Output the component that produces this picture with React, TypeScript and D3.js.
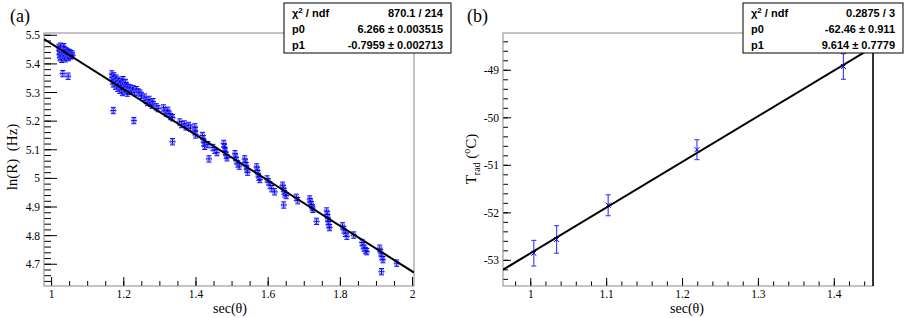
import React, { useEffect, useRef } from 'react';
import * as d3 from 'd3';

// panel (a): ln(R) vs sec(theta)
const lnPoints: [number, number][] = [
  [1.020, 5.458], [1.021, 5.447], [1.022, 5.432], [1.023, 5.422], [1.024, 5.452], [1.026, 5.441],
  [1.027, 5.428], [1.028, 5.416], [1.030, 5.455], [1.031, 5.445], [1.032, 5.435], [1.033, 5.424],
  [1.035, 5.450], [1.036, 5.438], [1.037, 5.428], [1.038, 5.418], [1.040, 5.446], [1.041, 5.436],
  [1.043, 5.425], [1.044, 5.442], [1.046, 5.432], [1.047, 5.422], [1.049, 5.440], [1.050, 5.430],
  [1.052, 5.437], [1.054, 5.428], [1.056, 5.435], [1.058, 5.430], [1.025, 5.462], [1.034, 5.460],
  [1.031, 5.366], [1.046, 5.357],
  [1.167, 5.365], [1.168, 5.352], [1.170, 5.340], [1.171, 5.330], [1.173, 5.358], [1.174, 5.345],
  [1.176, 5.334], [1.177, 5.322], [1.179, 5.350], [1.180, 5.338], [1.182, 5.327], [1.183, 5.315],
  [1.185, 5.343], [1.186, 5.330], [1.188, 5.320], [1.189, 5.308], [1.191, 5.338], [1.193, 5.325],
  [1.195, 5.312], [1.196, 5.300], [1.198, 5.345], [1.200, 5.330], [1.201, 5.318], [1.203, 5.305],
  [1.205, 5.335], [1.207, 5.322], [1.209, 5.310], [1.210, 5.298], [1.212, 5.318], [1.215, 5.305],
  [1.218, 5.316], [1.222, 5.306], [1.226, 5.313], [1.230, 5.300], [1.235, 5.310], [1.240, 5.302],
  [1.245, 5.298], [1.249, 5.290],
  [1.171, 5.237], [1.228, 5.202],
  [1.258, 5.284], [1.262, 5.272], [1.266, 5.265], [1.270, 5.276], [1.274, 5.262], [1.278, 5.256],
  [1.281, 5.268], [1.290, 5.250], [1.295, 5.244],
  [1.310, 5.246], [1.314, 5.236], [1.318, 5.228], [1.322, 5.238], [1.326, 5.224], [1.330, 5.216],
  [1.335, 5.212], [1.335, 5.128],
  [1.355, 5.197], [1.360, 5.188], [1.368, 5.190], [1.372, 5.180], [1.380, 5.185], [1.385, 5.176],
  [1.397, 5.180], [1.398, 5.166], [1.399, 5.152],
  [1.418, 5.150], [1.420, 5.138], [1.422, 5.126], [1.424, 5.112], [1.433, 5.118],
  [1.447, 5.108], [1.452, 5.098], [1.458, 5.090], [1.436, 5.068],
  [1.477, 5.122], [1.479, 5.108], [1.481, 5.094], [1.484, 5.080], [1.486, 5.072],
  [1.508, 5.086], [1.510, 5.074], [1.512, 5.062], [1.516, 5.050], [1.520, 5.043],
  [1.535, 5.068], [1.537, 5.056], [1.539, 5.044], [1.541, 5.032], [1.543, 5.022],
  [1.568, 5.040], [1.570, 5.028], [1.572, 5.016], [1.574, 5.004], [1.577, 4.996],
  [1.597, 4.998], [1.601, 4.988], [1.605, 4.976], [1.610, 4.964], [1.618, 4.953],
  [1.640, 4.976], [1.642, 4.965], [1.644, 4.955], [1.646, 4.946], [1.650, 4.940], [1.643, 4.907],
  [1.678, 4.934], [1.682, 4.922],
  [1.715, 4.928], [1.717, 4.918], [1.720, 4.908], [1.722, 4.898], [1.724, 4.892], [1.734, 4.850],
  [1.762, 4.886], [1.764, 4.874], [1.765, 4.862], [1.766, 4.850], [1.768, 4.838], [1.770, 4.828],
  [1.806, 4.834], [1.810, 4.820], [1.814, 4.808], [1.818, 4.798], [1.837, 4.802],
  [1.860, 4.776], [1.863, 4.765], [1.866, 4.756], [1.870, 4.748], [1.873, 4.744],
  [1.909, 4.756], [1.912, 4.740], [1.915, 4.726], [1.918, 4.716], [1.914, 4.674],
  [1.956, 4.704],
];
const lnErr = 0.011;
const lnFit = { p0: 6.266, p1: -0.7959 };
const lnStats = [
  ['χ² / ndf', '870.1 / 214'],
  ['p0', '6.266 ± 0.003515'],
  ['p1', '-0.7959 ± 0.002713'],
];

// panel (b): T_rad vs sec(theta)
const tSec = [1.004, 1.034, 1.102, 1.219, 1.412];
const tRad = [-52.85, -52.56, -51.84, -50.67, -48.92];
const tErr = [0.27, 0.29, 0.22, 0.21, 0.27];
const tFit = { p0: -62.46, p1: 9.614 };
const tStats = [
  ['χ² / ndf', '0.2875 / 3'],
  ['p0', '-62.46 ± 0.911'],
  ['p1', '9.614 ± 0.7779'],
];

const serif = '"Liberation Serif", "Times New Roman", "DejaVu Serif", serif';
const sans = '"Liberation Sans", Arial, sans-serif';
const frameCol = '#8a8a8a';

// ROOT style labels: plain hyphen, no trailing zeros
const fmt = (v: number) => String(+v.toFixed(3));

function drawAxes(g, x, y, opt) {
  const [x0, x1] = x.range();
  const [y0, y1] = y.range(); // y0 is the bottom
  opt.xMinor.forEach((v) => {
    g.append('line').attr('x1', x(v)).attr('x2', x(v)).attr('y1', y0).attr('y2', y0 - opt.xMinorLen)
      .attr('stroke', '#000').attr('stroke-width', 1);
  });
  opt.xMajor.forEach((v) => {
    g.append('line').attr('x1', x(v)).attr('x2', x(v)).attr('y1', y0).attr('y2', y0 - opt.xMajorLen)
      .attr('stroke', '#000').attr('stroke-width', 1);
    g.append('text').attr('x', x(v)).attr('y', y0 + 12).attr('text-anchor', 'middle')
      .attr('font-family', serif).attr('font-size', 11.5).text(fmt(v));
  });
  opt.yMinor.forEach((v) => {
    g.append('line').attr('x1', x0).attr('x2', x0 + opt.yMinorLen).attr('y1', y(v)).attr('y2', y(v))
      .attr('stroke', '#000').attr('stroke-width', 1);
  });
  opt.yMajor.forEach((v) => {
    g.append('line').attr('x1', x0).attr('x2', x0 + opt.yMajorLen).attr('y1', y(v)).attr('y2', y(v))
      .attr('stroke', '#000').attr('stroke-width', 1);
    g.append('text').attr('x', x0 - 4).attr('y', y(v) + 4).attr('text-anchor', 'end')
      .attr('font-family', serif).attr('font-size', 11.5).text(fmt(v));
  });
  g.append('rect').attr('x', x0).attr('y', y1).attr('width', x1 - x0).attr('height', y0 - y1)
    .attr('fill', 'none').attr('stroke', frameCol).attr('stroke-width', 1);
}

function drawStats(g, left, top, w, rows) {
  g.append('rect').attr('x', left).attr('y', top).attr('width', w).attr('height', 50)
    .attr('fill', '#fff').attr('stroke', '#000').attr('stroke-width', 1);
  rows.forEach((r, i) => {
    const yy = top + 14 + i * 16;
    const lab = g.append('text').attr('x', left + 8).attr('y', yy).attr('font-family', sans)
      .attr('font-weight', 'bold').attr('font-size', 11);
    if (r[0].startsWith('χ')) {
      lab.append('tspan').text('χ');
      lab.append('tspan').attr('dy', -4).attr('font-size', 8).text('2');
      lab.append('tspan').attr('dy', 4).text(' / ndf');
    } else {
      lab.text(r[0]);
    }
    g.append('text').attr('x', left + w - 8).attr('y', yy).attr('text-anchor', 'end')
      .attr('font-family', sans).attr('font-weight', 'bold').attr('font-size', 11).text(r[1]);
  });
}

const App = () => {
  const ref = useRef(null);

  useEffect(() => {
    const svg = d3.select(ref.current);
    svg.selectAll('*').remove();

    // ---------- panel (a)
    const xa = d3.scaleLinear().domain([0.979, 2.004]).range([44, 414]);
    const ya = d3.scaleLinear().domain([4.624, 5.508]).range([286, 33]);
    const ga = svg.append('g');
    drawAxes(ga, xa, ya, {
      xMajor: d3.range(1, 2.001, 0.2), xMinor: d3.range(1, 2.001, 0.05), xMajorLen: 9, xMinorLen: 5,
      yMajor: d3.range(4.7, 5.501, 0.1), yMinor: d3.range(4.64, 5.501, 0.02), yMajorLen: 13, yMinorLen: 7,
    });
    ga.append('defs').append('clipPath').attr('id', 'clipA').append('rect')
      .attr('x', 44).attr('y', 33).attr('width', 370).attr('height', 253);
    const pa = ga.append('g').attr('clip-path', 'url(#clipA)');
    lnPoints.forEach(([sx, ly]) => {
      const cx = xa(sx), cy = ya(ly);
      const ey = ya(ly - lnErr) - cy;
      pa.append('line').attr('x1', cx).attr('x2', cx).attr('y1', cy - ey).attr('y2', cy + ey)
        .attr('stroke', '#0000f0').attr('stroke-width', 1);
      pa.append('line').attr('x1', cx - 2.5).attr('x2', cx + 2.5).attr('y1', cy - ey).attr('y2', cy - ey)
        .attr('stroke', '#0000f0').attr('stroke-width', 1);
      pa.append('line').attr('x1', cx - 2.5).attr('x2', cx + 2.5).attr('y1', cy + ey).attr('y2', cy + ey)
        .attr('stroke', '#0000f0').attr('stroke-width', 1);
      pa.append('line').attr('x1', cx - 3).attr('x2', cx + 3).attr('y1', cy).attr('y2', cy)
        .attr('stroke', '#0000f0').attr('stroke-width', 1);
      pa.append('circle').attr('cx', cx).attr('cy', cy).attr('r', 2.4)
        .attr('fill', 'none').attr('stroke', '#5b5bff').attr('stroke-width', 0.9);
    });
    const fa = xa.domain();
    pa.append('line').attr('x1', xa(fa[0])).attr('y1', ya(lnFit.p0 + lnFit.p1 * fa[0]))
      .attr('x2', xa(fa[1])).attr('y2', ya(lnFit.p0 + lnFit.p1 * fa[1]))
      .attr('stroke', '#000').attr('stroke-width', 2);
    drawStats(ga, 284, 3, 167, lnStats);
    ga.append('text').attr('x', 10).attr('y', 22).attr('font-family', serif).attr('font-size', 18).text('(a)');
    ga.append('text').attr('x', 230).attr('y', 313).attr('text-anchor', 'middle')
      .attr('font-family', serif).attr('font-size', 14).text('sec(θ)');
    ga.append('text').attr('transform', 'translate(17,157) rotate(-90)').attr('text-anchor', 'middle')
      .attr('font-family', serif).attr('font-size', 15).attr('xml:space', 'preserve').text('ln(R)  (Hz)');

    // ---------- panel (b)
    const xb = d3.scaleLinear().domain([0.9634, 1.451]).range([503, 873]);
    const yb = d3.scaleLinear().domain([-53.54, -48.215]).range([286, 33]);
    const gb = svg.append('g');
    drawAxes(gb, xb, yb, {
      xMajor: d3.range(1, 1.401, 0.1), xMinor: d3.range(0.98, 1.441, 0.02), xMajorLen: 8, xMinorLen: 4.5,
      yMajor: d3.range(-53, -48.99, 1), yMinor: d3.range(-53.4, -48.3, 0.2), yMajorLen: 8, yMinorLen: 5,
    });
    gb.append('line').attr('x1', 873).attr('x2', 873).attr('y1', 33).attr('y2', 286)
      .attr('stroke', '#111').attr('stroke-width', 1.6);
    gb.append('defs').append('clipPath').attr('id', 'clipB').append('rect')
      .attr('x', 503).attr('y', 33).attr('width', 370).attr('height', 253);
    const pb = gb.append('g').attr('clip-path', 'url(#clipB)');
    tSec.forEach((sx, i) => {
      const cx = xb(sx), cy = yb(tRad[i]);
      const top = yb(tRad[i] + tErr[i]), bot = yb(tRad[i] - tErr[i]);
      const col = '#4646ff';
      pb.append('line').attr('x1', cx).attr('x2', cx).attr('y1', top).attr('y2', bot)
        .attr('stroke', col).attr('stroke-width', 1.2);
      [top, bot].forEach((yy) => {
        pb.append('line').attr('x1', cx - 2.5).attr('x2', cx + 2.5).attr('y1', yy).attr('y2', yy)
          .attr('stroke', col).attr('stroke-width', 1.2);
      });
      pb.append('path').attr('d', `M${cx - 2.5},${cy - 2.5}L${cx + 2.5},${cy + 2.5}M${cx - 2.5},${cy + 2.5}L${cx + 2.5},${cy - 2.5}`)
        .attr('stroke', '#0000e0').attr('stroke-width', 1);
    });
    const fb = xb.domain();
    pb.append('line').attr('x1', xb(fb[0])).attr('y1', yb(tFit.p0 + tFit.p1 * fb[0]))
      .attr('x2', xb(fb[1])).attr('y2', yb(tFit.p0 + tFit.p1 * fb[1]))
      .attr('stroke', '#000').attr('stroke-width', 2);
    drawStats(gb, 743, 3, 160, tStats);
    gb.append('text').attr('x', 467).attr('y', 22).attr('font-family', serif).attr('font-size', 18).text('(b)');
    gb.append('text').attr('x', 687).attr('y', 313).attr('text-anchor', 'middle')
      .attr('font-family', serif).attr('font-size', 14).text('sec(θ)');
    const yt = gb.append('text').attr('transform', 'translate(476,159) rotate(-90)').attr('text-anchor', 'middle')
      .attr('font-family', serif).attr('font-size', 15);
    yt.append('tspan').text('T');
    yt.append('tspan').attr('dy', 4).attr('font-size', 10).text('rad');
    yt.append('tspan').attr('dy', -4).text(' (');
    yt.append('tspan').attr('dy', -6).attr('font-size', 10).text('o');
    yt.append('tspan').attr('dy', 6).text('C)');
  }, []);

  return (
    <svg ref={ref} width={913} height={318} style={{ position: 'absolute', left: 0, top: 0, background: '#fff' }}></svg>
  );
};

export default App;
